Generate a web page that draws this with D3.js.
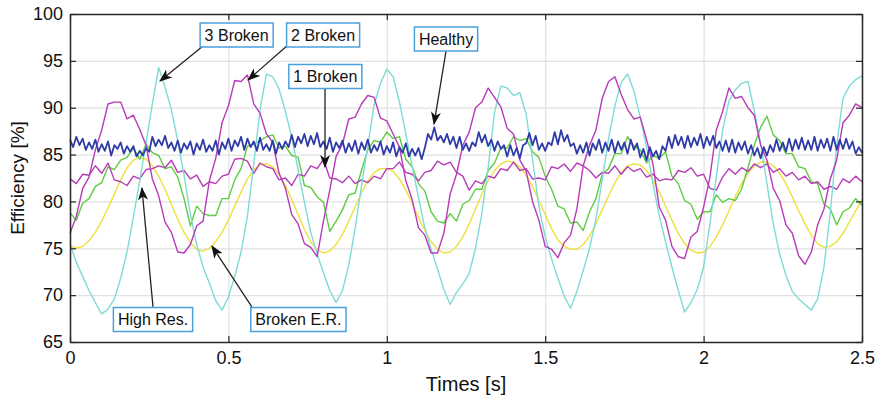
<!DOCTYPE html>
<html>
<head>
<meta charset="utf-8">
<script src="https://cdn.jsdelivr.net/npm/d3@7"></script>
<style>
  body { margin: 0; background: #fff; }
  svg { display: block; font-family: "Liberation Sans", Arial, sans-serif; }
</style>
</head>
<body>
<div id="vis"></div>
<script>

// time span of every series [s]
var tMax = 2.5;

// tick labels
var xTicks = [0, 0.5, 1, 1.5, 2, 2.5];
var yTicks = [65, 70, 75, 80, 85, 90, 95, 100];

// Healthy, sampled every 0.01 s
var healthy = [
	86.6, 85.8, 86.9, 86.0, 86.7, 85.5, 86.3, 85.6, 86.6, 85.3,
	86.1, 85.4, 86.4, 84.9, 86.0, 85.6, 86.3, 85.1, 85.9, 85.3,
	85.9, 84.8, 85.4, 84.9, 85.7, 85.3, 86.9, 85.9, 86.6, 86.0,
	87.0, 85.7, 86.3, 85.4, 86.5, 85.2, 86.2, 85.6, 86.4, 85.0,
	86.2, 85.5, 86.6, 85.3, 86.0, 85.4, 86.5, 85.0, 86.3, 85.6,
	86.7, 85.4, 86.5, 85.9, 86.9, 85.5, 86.7, 85.8, 86.4, 85.4,
	86.8, 85.5, 86.1, 85.4, 86.5, 85.1, 86.3, 85.6, 86.4, 85.8,
	87.1, 85.8, 86.9, 86.2, 87.2, 85.9, 87.0, 86.1, 87.3, 85.8,
	86.4, 85.6, 86.8, 85.3, 86.3, 85.7, 86.5, 85.2, 86.2, 85.4,
	86.5, 85.1, 86.3, 85.5, 86.6, 85.2, 86.0, 85.4, 86.4, 85.0,
	85.9, 85.2, 86.3, 84.8, 85.8, 85.2, 86.2, 84.8, 85.6, 84.9,
	85.7, 84.5, 85.7, 87.2, 86.6, 87.9, 86.5, 87.0, 86.3, 87.2,
	86.1, 86.9, 85.7, 86.9, 85.5, 86.2, 85.4, 86.3, 85.9, 87.4,
	86.3, 87.1, 85.9, 86.6, 85.4, 86.4, 85.6, 86.0, 84.8, 86.0,
	84.9, 85.7, 84.6, 86.0, 86.2, 87.3, 86.0, 87.0, 85.5, 86.2,
	85.4, 86.3, 86.0, 87.4, 86.1, 87.6, 86.4, 87.1, 85.9, 86.2,
	85.1, 86.0, 85.2, 86.3, 84.9, 86.2, 85.5, 86.6, 85.2, 86.3,
	85.4, 86.6, 85.2, 86.4, 85.5, 86.3, 85.1, 86.6, 85.5, 86.2,
	84.7, 85.6, 84.4, 85.8, 84.8, 85.4, 84.5, 85.9, 85.4, 86.9,
	85.7, 87.1, 86.0, 86.9, 85.7, 87.0, 85.8, 86.8, 86.0, 87.2,
	85.7, 86.9, 86.0, 87.0, 85.7, 86.4, 85.4, 86.5, 85.3, 86.6,
	85.2, 86.3, 85.5, 86.4, 85.1, 86.0, 84.9, 85.7, 84.6, 85.8,
	84.9, 86.0, 85.3, 86.6, 85.4, 86.3, 85.3, 86.7, 85.4, 86.6,
	85.6, 86.8, 85.5, 86.5, 85.5, 86.9, 85.4, 86.6, 85.7, 86.7,
	85.4, 86.9, 85.5, 86.6, 85.6, 86.7, 85.6, 86.4, 85.1, 85.8,
	85.2
];

// the other series, sampled every 0.02 s
var broken1 = [
	82.4, 81.9, 82.9, 82.8, 83.8, 83.0, 84.1, 82.3, 82.1, 81.7,
	82.7, 82.4, 83.4, 83.5, 83.8, 83.6, 84.4, 83.1, 83.3, 82.4,
	82.8, 81.6, 82.1, 81.9, 82.7, 82.9, 84.5, 84.6, 84.3, 83.0,
	84.1, 83.7, 83.5, 82.3, 82.5, 81.7, 82.9, 82.7, 83.8, 83.5,
	84.5, 82.5, 82.4, 82.0, 82.7, 81.9, 82.3, 82.0, 82.7, 82.4,
	83.5, 83.5, 84.2, 83.1, 82.9, 82.2, 83.1, 83.3, 84.3, 83.9,
	84.2, 83.1, 82.7, 81.2, 82.2, 81.9, 82.7, 82.5, 83.5, 83.3,
	84.2, 83.3, 83.5, 82.4, 82.5, 82.3, 83.7, 83.5, 84.0, 83.2,
	84.1, 83.8, 83.3, 82.5, 83.1, 83.0, 83.8, 82.9, 83.7, 83.2,
	83.5, 82.6, 82.9, 82.2, 82.4, 82.3, 83.3, 83.1, 83.6, 82.7,
	82.9, 81.4, 81.2, 82.6, 83.5, 82.9, 83.6, 83.2, 84.0, 83.6,
	84.0, 83.1, 83.5, 82.7, 83.1, 82.3, 82.7, 81.9, 82.1, 81.3,
	81.6, 81.3, 82.4, 82.0, 82.7, 82.1
];

var broken2 = [
	76.6, 78.4, 81.4, 82.6, 85.5, 87.6, 90.4, 90.6, 90.6, 88.8,
	89.2, 87.7, 86.0, 82.4, 80.6, 77.8, 76.7, 74.6, 74.5, 75.4,
	77.4, 77.9, 82.2, 84.6, 88.4, 90.2, 92.9, 92.8, 93.5, 90.4,
	89.4, 87.2, 86.3, 83.0, 81.4, 78.6, 77.6, 75.5, 75.1, 74.1,
	77.9, 81.2, 84.8, 86.1, 88.8, 89.0, 90.4, 91.3, 91.1, 88.9,
	88.6, 87.2, 85.8, 82.2, 80.2, 77.2, 76.4, 74.5, 74.5, 76.6,
	80.8, 82.9, 86.0, 87.4, 90.0, 90.6, 92.1, 91.1, 90.1, 87.8,
	87.2, 84.4, 83.2, 80.0, 78.0, 75.2, 74.9, 74.0, 75.6, 76.4,
	79.2, 83.8, 86.0, 87.6, 91.0, 92.8, 93.3, 91.4, 89.8, 88.8,
	89.0, 86.6, 84.0, 79.4, 78.0, 75.2, 74.1, 73.9, 76.2, 76.8,
	79.4, 82.6, 87.6, 89.6, 92.1, 91.0, 91.2, 90.0, 89.2, 86.0,
	84.4, 81.4, 80.1, 77.5, 76.6, 74.2, 73.3, 74.6, 77.5, 79.2,
	82.4, 84.4, 88.4, 89.2, 90.4, 90.0
];

var broken3 = [
	75.5, 73.5, 72.0, 70.5, 69.2, 68.0, 68.5, 69.6, 71.8, 74.6,
	78.3, 82.2, 86.3, 90.4, 94.3, 92.2, 89.8, 86.5, 82.8, 78.6,
	75.4, 73.0, 71.3, 69.4, 68.4, 69.8, 72.0, 74.6, 78.4, 84.0,
	89.8, 93.6, 93.3, 92.0, 89.6, 86.8, 83.4, 79.9, 76.7, 74.4,
	72.4, 70.5, 69.2, 70.5, 73.2, 77.1, 81.6, 85.9, 90.3, 92.6,
	94.1, 93.3, 90.6, 87.2, 83.8, 80.4, 77.2, 74.9, 72.8, 70.6,
	69.0, 70.3, 71.2, 72.3, 75.0, 78.7, 83.6, 89.5, 92.3, 92.1,
	91.3, 91.6, 89.3, 84.5, 79.5, 76.2, 73.9, 71.8, 69.9, 68.6,
	70.4, 72.6, 75.0, 78.1, 82.3, 86.7, 90.2, 92.7, 93.6, 91.8,
	89.0, 85.8, 81.9, 78.5, 75.7, 73.0, 70.5, 68.2, 69.2, 70.6,
	73.0, 77.6, 82.6, 87.6, 90.7, 91.9, 92.6, 92.8, 89.7, 86.2,
	81.9, 77.6, 74.4, 72.1, 70.4, 69.6, 69.0, 68.4, 69.6, 73.0,
	78.9, 86.0, 91.0, 92.3, 93.0, 93.4
];

var highRes = [
	78.8, 78.0, 79.8, 80.3, 81.6, 82.0, 83.7, 83.4, 84.4, 84.7,
	85.7, 84.5, 86.1, 85.2, 84.9, 83.5, 83.7, 82.6, 80.3, 77.4,
	79.5, 78.7, 78.5, 78.5, 80.3, 80.3, 82.3, 83.5, 85.9, 86.1,
	86.5, 86.9, 87.1, 85.7, 85.9, 84.9, 84.7, 81.7, 81.5, 80.5,
	79.9, 76.8, 77.9, 79.1, 80.7, 80.9, 83.3, 85.5, 86.5, 86.3,
	87.4, 86.7, 86.9, 84.5, 83.7, 81.9, 81.1, 78.9, 77.9, 77.7,
	78.7, 77.9, 79.7, 80.1, 81.3, 81.3, 83.3, 84.1, 85.7, 85.7,
	86.9, 86.5, 86.7, 85.3, 84.7, 82.7, 81.3, 79.5, 79.2, 77.7,
	77.8, 76.9, 78.9, 80.3, 82.9, 83.5, 85.1, 85.1, 86.9, 85.9,
	85.5, 84.1, 84.9, 84.6, 85.3, 82.7, 81.9, 80.1, 79.7, 78.1,
	78.9, 78.9, 80.7, 79.9, 80.3, 80.1, 81.3, 83.6, 86.0, 87.9,
	89.1, 87.1, 86.5, 85.1, 85.1, 83.7, 83.5, 82.1, 81.9, 79.7,
	79.2, 77.5, 78.9, 79.3, 80.3, 79.6
];

var brokenER = [
	75.3, 75.0, 75.2, 75.8, 76.7, 77.9, 79.3, 80.8, 82.3, 83.6,
	84.4, 84.7, 84.5, 83.8, 82.7, 81.3, 79.7, 78.1, 76.7, 75.6,
	74.9, 74.7, 75.0, 75.7, 76.7, 78.0, 79.5, 81.0, 82.4, 83.4,
	83.9, 84.0, 83.7, 82.9, 81.7, 80.2, 78.6, 77.0, 75.7, 74.8,
	74.5, 74.7, 75.4, 76.5, 77.9, 79.4, 80.9, 82.2, 83.1, 83.5,
	83.5, 83.2, 82.4, 81.2, 79.8, 78.3, 76.9, 75.7, 74.9, 74.5,
	74.6, 75.2, 76.2, 77.6, 79.2, 80.8, 82.2, 83.3, 84.0, 84.3,
	84.2, 83.7, 82.8, 81.6, 80.1, 78.6, 77.1, 75.9, 75.2, 74.9,
	74.9, 75.4, 76.3, 77.6, 79.1, 80.6, 82.0, 83.1, 83.8, 84.0,
	83.9, 83.3, 82.3, 81.0, 79.5, 78.0, 76.6, 75.5, 74.8, 74.5,
	74.6, 75.2, 76.2, 77.5, 79.0, 80.5, 81.9, 83.0, 83.8, 84.2,
	84.2, 83.8, 83.0, 81.9, 80.5, 79.0, 77.6, 76.4, 75.5, 75.1,
	75.2, 75.7, 76.6, 77.8, 79.0, 80.2
];

var seriesNames = ["Broken E.R.", "High Res.", "1 Broken", "3 Broken", "2 Broken", "Healthy"];
var seriesData = [brokenER, highRes, broken1, broken3, broken2, healthy];
var seriesColors = ["#eee03c", "#5fcb42", "#b73cb8", "#7edbd6", "#b83ab8", "#2f3ba6"];
var seriesWidths = [1.4, 1.4, 1.4, 1.4, 1.4, 1.8];

// annotation boxes: label, box centre (t, %), arrow tail (t, %), arrow tip (t, %)
var noteLabels = ["3 Broken", "2 Broken", "1 Broken", "Healthy", "High Res.", "Broken E.R."];
var noteBox = [[0.526, 97.76], [0.799, 97.76], [0.806, 93.33], [1.187, 97.33], [0.262, 67.4], [0.721, 67.4]];
var noteTail = [[0.417, 96.5], [0.688, 96.7], [0.805, 92.1], [1.187, 96.05], [0.262, 68.75], [0.574, 68.75]];
var noteTip = [[0.284, 92.85], [0.562, 92.96], [0.805, 83.67], [1.149, 88.26], [0.227, 81.43], [0.448, 75.24]];

function drawChart() {

	var width = 880, height = 401;
	var left = 70, right = 862, top = 14, bottom = 342;

	var svg = d3.select("#vis").append("svg")
		.attr("width", width)
		.attr("height", height);

	var xScale = d3.scaleLinear().domain([0, tMax]).range([left, right]);
	var yScale = d3.scaleLinear().domain([65, 100]).range([bottom, top]);

	// grid
	svg.append("g")
		.attr("transform", "translate(0," + bottom + ")")
		.call(d3.axisBottom(xScale).tickValues(xTicks).tickSize(-(bottom - top)).tickFormat(""))
		.call(g => g.select(".domain").remove())
		.selectAll("line").attr("stroke", "#e1e1e1").attr("stroke-width", 1.2);

	svg.append("g")
		.attr("transform", "translate(" + left + ",0)")
		.call(d3.axisLeft(yScale).tickValues(yTicks).tickSize(-(right - left)).tickFormat(""))
		.call(g => g.select(".domain").remove())
		.selectAll("line").attr("stroke", "#e1e1e1").attr("stroke-width", 1.2);

	// series
	var line = d3.line()
		.x(d => xScale(d.t))
		.y(d => yScale(d.v));

	var plot = svg.append("g");

	seriesData.forEach(function(values, k) {
		var pts = values.map(function(v, i) {
			return {t: i / (values.length - 1) * tMax, v: v};
		});
		plot.append("path")
			.datum(pts)
			.attr("class", "series")
			.attr("fill", "none")
			.attr("stroke", seriesColors[k])
			.attr("stroke-width", seriesWidths[k])
			.attr("stroke-linejoin", "round")
			.attr("d", line);
	});

	// axes (box with inward ticks)
	var axisColor = "#262626";

	var xAxis = svg.append("g")
		.attr("transform", "translate(0," + bottom + ")")
		.call(d3.axisBottom(xScale).tickValues(xTicks).tickSizeInner(-6).tickSizeOuter(0).tickPadding(9).tickFormat(d3.format("")));

	var xTop = svg.append("g")
		.attr("transform", "translate(0," + top + ")")
		.call(d3.axisTop(xScale).tickValues(xTicks).tickSizeInner(-6).tickSizeOuter(0).tickFormat(""));

	var yAxis = svg.append("g")
		.attr("transform", "translate(" + left + ",0)")
		.call(d3.axisLeft(yScale).tickValues(yTicks).tickSizeInner(-6).tickSizeOuter(0).tickPadding(7));

	var yRight = svg.append("g")
		.attr("transform", "translate(" + right + ",0)")
		.call(d3.axisRight(yScale).tickValues(yTicks).tickSizeInner(-6).tickSizeOuter(0).tickFormat(""));

	[xAxis, xTop, yAxis, yRight].forEach(function(g) {
		g.select(".domain").attr("stroke", axisColor).attr("stroke-width", 1.5);
		g.selectAll(".tick line").attr("stroke", axisColor).attr("stroke-width", 1.2);
		g.selectAll("text")
			.attr("fill", "#111")
			.style("font-size", "18px")
			.style("font-family", "'Liberation Sans', Arial, sans-serif");
	});

	// axis titles
	svg.append("text")
		.attr("x", (left + right) / 2)
		.attr("y", 391)
		.attr("text-anchor", "middle")
		.style("font-size", "20px")
		.attr("fill", "#111")
		.text("Times [s]");

	svg.append("text")
		.attr("transform", "translate(24," + ((top + bottom) / 2) + ") rotate(-90)")
		.attr("text-anchor", "middle")
		.style("font-size", "19px")
		.attr("fill", "#111")
		.text("Efficiency [%]");

	// annotations
	svg.append("defs").append("marker")
		.attr("id", "head")
		.attr("viewBox", "0 0 13 10")
		.attr("refX", 12)
		.attr("refY", 5)
		.attr("markerWidth", 13)
		.attr("markerHeight", 10)
		.attr("markerUnits", "userSpaceOnUse")
		.attr("orient", "auto")
		.append("path")
		.attr("d", "M0,0 L13,5 L0,10 L3.5,5 Z")
		.attr("fill", "#111");

	var notes = svg.append("g");

	noteLabels.forEach(function(label, k) {
		notes.append("line")
			.attr("x1", xScale(noteTail[k][0]))
			.attr("y1", yScale(noteTail[k][1]))
			.attr("x2", xScale(noteTip[k][0]))
			.attr("y2", yScale(noteTip[k][1]))
			.attr("stroke", "#222")
			.attr("stroke-width", 1.3)
			.attr("marker-end", "url(#head)");
	});

	noteLabels.forEach(function(label, k) {
		var cx = xScale(noteBox[k][0]), cy = yScale(noteBox[k][1]);
		var box = notes.append("rect");
		var txt = notes.append("text")
			.attr("x", cx)
			.attr("y", cy)
			.attr("dy", "0.36em")
			.attr("text-anchor", "middle")
			.style("font-size", "16px")
			.attr("fill", "#111")
			.text(label);
		var w = txt.node().getComputedTextLength() + 9;
		box.attr("x", cx - w / 2)
			.attr("y", cy - 12)
			.attr("width", w)
			.attr("height", 24)
			.attr("fill", "#fff")
			.attr("stroke", "#4aa0dc")
			.attr("stroke-width", 1.5);
	});
}

drawChart();

</script>
</body>
</html>
